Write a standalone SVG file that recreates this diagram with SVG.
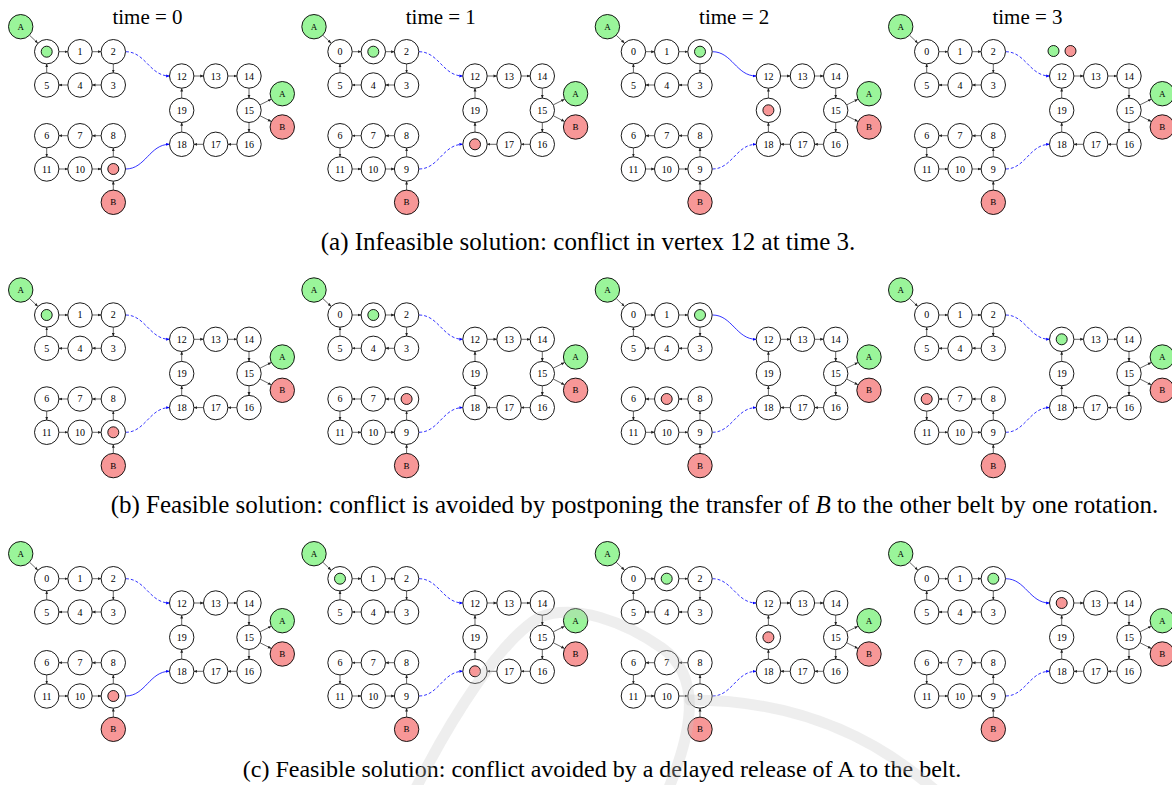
<svg xmlns="http://www.w3.org/2000/svg" xmlns:xlink="http://www.w3.org/1999/xlink" width="1172" height="785" viewBox="0 0 1172 785">
<style>
.n circle{fill:#fff;stroke:#000;stroke-width:.9}
.n.ga circle{fill:#9af59a}
.n.rb circle{fill:#f79797}
.n circle.tg,.tok.tg{fill:#9af59a}
.n circle.tr,.tok.tr{fill:#f79797}
.tok{stroke:#000;stroke-width:.9}
.n text{font-family:"Liberation Serif","Times New Roman",serif;font-size:10px;text-anchor:middle;fill:#000}
.n text.s{font-size:9px}
.e path{fill:none;stroke:#222;stroke-width:.7;marker-end:url(#ah)}
.bl{fill:none;stroke:#00f;stroke-width:.8;marker-end:url(#bh)}
.dsh{stroke-dasharray:3 2}
.ttl{font-family:"Liberation Serif","Times New Roman",serif;font-size:21px;text-anchor:middle;fill:#000}
.cap{font-family:"Liberation Serif","Times New Roman",serif;font-size:25px;text-anchor:middle;fill:#000}
.wm{fill:none;stroke:#c8c8c8;stroke-width:11;stroke-linecap:round;opacity:.3}
</style>
<defs>
<marker id="ah" viewBox="0 0 6 6" refX="5.5" refY="3" markerWidth="3.6" markerHeight="3.6" orient="auto" markerUnits="userSpaceOnUse"><path d="M0,0.6L6,3L0,5.4z" fill="#222"/></marker>
<marker id="bh" viewBox="0 0 6 6" refX="5.5" refY="3" markerWidth="3.6" markerHeight="3.6" orient="auto" markerUnits="userSpaceOnUse"><path d="M0,0.6L6,3L0,5.4z" fill="#00f"/></marker>
<g id="edges" class="e">
<path d="M29.6,35.3L37.7,43"/>
<path d="M58.9,51.7H67.8"/>
<path d="M92.2,51.7H101.1"/>
<path d="M113.3,63.9V72.8"/>
<path d="M101.1,85H92.2"/>
<path d="M67.8,85H58.9"/>
<path d="M46.7,72.8V63.9"/>
<path d="M101.1,135.7H92.2"/>
<path d="M67.8,135.7H58.9"/>
<path d="M46.7,147.9V156.8"/>
<path d="M58.9,169H67.8"/>
<path d="M92.2,169H101.1"/>
<path d="M113.3,156.8V147.9"/>
<path d="M113.3,190.1V181.2"/>
<path d="M193.9,76H203.5"/>
<path d="M227.9,76H236.8"/>
<path d="M249,88.2V98.1"/>
<path d="M249,122.5V132.1"/>
<path d="M236.8,144.3H227.9"/>
<path d="M203.5,144.3H193.9"/>
<path d="M181.7,132.1V122.5"/>
<path d="M181.7,98.1V88.2"/>
<path d="M260.1,104.8L271.1,99.3"/>
<path d="M260.1,115.8L271.1,121.4"/>
</g>
</defs>

<!-- Row (a) -->
<g id="pa0" transform="translate(0,0)">
<text class="ttl" x="147.5" y="24">time = 0</text>
<g id="a0-conn"><use href="#edges" xlink:href="#edges"/><path class="bl dsh" d="M125.8,51.7C145.3,51.7 149.7,76 169.4,76"/><path class="bl" d="M125.8,169C145.3,169 149.7,144.3 169.4,144.3"/></g>
<g id="a0-srcA" class="n ga"><circle cx="20.7" cy="26.7" r="12.2"/><text class="s" x="20.7" y="29.8">A</text></g>
<g id="a0-srcB" class="n rb"><circle cx="113.3" cy="202.3" r="12.2"/><text class="s" x="113.3" y="205.4">B</text></g>
<g id="a0-outA" class="n ga"><circle cx="282.3" cy="93.7" r="12.2"/><text class="s" x="282.3" y="96.8">A</text></g>
<g id="a0-outB" class="n rb"><circle cx="282.3" cy="127" r="12.2"/><text class="s" x="282.3" y="130.1">B</text></g>
<g id="a0-n0" class="n"><circle cx="46.7" cy="51.7" r="12.2"/><circle class="tg" cx="46.7" cy="51.7" r="5.5"/></g>
<g id="a0-n1" class="n"><circle cx="80" cy="51.7" r="12.2"/><text x="80" y="55.2">1</text></g>
<g id="a0-n2" class="n"><circle cx="113.3" cy="51.7" r="12.2"/><text x="113.3" y="55.2">2</text></g>
<g id="a0-n3" class="n"><circle cx="113.3" cy="85" r="12.2"/><text x="113.3" y="88.5">3</text></g>
<g id="a0-n4" class="n"><circle cx="80" cy="85" r="12.2"/><text x="80" y="88.5">4</text></g>
<g id="a0-n5" class="n"><circle cx="46.7" cy="85" r="12.2"/><text x="46.7" y="88.5">5</text></g>
<g id="a0-n6" class="n"><circle cx="46.7" cy="135.7" r="12.2"/><text x="46.7" y="139.2">6</text></g>
<g id="a0-n7" class="n"><circle cx="80" cy="135.7" r="12.2"/><text x="80" y="139.2">7</text></g>
<g id="a0-n8" class="n"><circle cx="113.3" cy="135.7" r="12.2"/><text x="113.3" y="139.2">8</text></g>
<g id="a0-n9" class="n"><circle cx="113.3" cy="169" r="12.2"/><circle class="tr" cx="113.3" cy="169" r="5.5"/></g>
<g id="a0-n10" class="n"><circle cx="80" cy="169" r="12.2"/><text x="80" y="172.5">10</text></g>
<g id="a0-n11" class="n"><circle cx="46.7" cy="169" r="12.2"/><text x="46.7" y="172.5">11</text></g>
<g id="a0-n12" class="n"><circle cx="181.7" cy="76" r="12.2"/><text x="181.7" y="79.5">12</text></g>
<g id="a0-n13" class="n"><circle cx="215.7" cy="76" r="12.2"/><text x="215.7" y="79.5">13</text></g>
<g id="a0-n14" class="n"><circle cx="249" cy="76" r="12.2"/><text x="249" y="79.5">14</text></g>
<g id="a0-n15" class="n"><circle cx="249" cy="110.3" r="12.2"/><text x="249" y="113.8">15</text></g>
<g id="a0-n16" class="n"><circle cx="249" cy="144.3" r="12.2"/><text x="249" y="147.8">16</text></g>
<g id="a0-n17" class="n"><circle cx="215.7" cy="144.3" r="12.2"/><text x="215.7" y="147.8">17</text></g>
<g id="a0-n18" class="n"><circle cx="181.7" cy="144.3" r="12.2"/><text x="181.7" y="147.8">18</text></g>
<g id="a0-n19" class="n"><circle cx="181.7" cy="110.3" r="12.2"/><text x="181.7" y="113.8">19</text></g>
</g>

<g id="pa1" transform="translate(293.3,0)">
<text class="ttl" x="147.5" y="24">time = 1</text>
<g id="a1-conn"><use href="#edges" xlink:href="#edges"/><path class="bl dsh" d="M125.8,51.7C145.3,51.7 149.7,76 169.4,76"/><path class="bl dsh" d="M125.8,169C145.3,169 149.7,144.3 169.4,144.3"/></g>
<g id="a1-srcA" class="n ga"><circle cx="20.7" cy="26.7" r="12.2"/><text class="s" x="20.7" y="29.8">A</text></g>
<g id="a1-srcB" class="n rb"><circle cx="113.3" cy="202.3" r="12.2"/><text class="s" x="113.3" y="205.4">B</text></g>
<g id="a1-outA" class="n ga"><circle cx="282.3" cy="93.7" r="12.2"/><text class="s" x="282.3" y="96.8">A</text></g>
<g id="a1-outB" class="n rb"><circle cx="282.3" cy="127" r="12.2"/><text class="s" x="282.3" y="130.1">B</text></g>
<g id="a1-n0" class="n"><circle cx="46.7" cy="51.7" r="12.2"/><text x="46.7" y="55.2">0</text></g>
<g id="a1-n1" class="n"><circle cx="80" cy="51.7" r="12.2"/><circle class="tg" cx="80" cy="51.7" r="5.5"/></g>
<g id="a1-n2" class="n"><circle cx="113.3" cy="51.7" r="12.2"/><text x="113.3" y="55.2">2</text></g>
<g id="a1-n3" class="n"><circle cx="113.3" cy="85" r="12.2"/><text x="113.3" y="88.5">3</text></g>
<g id="a1-n4" class="n"><circle cx="80" cy="85" r="12.2"/><text x="80" y="88.5">4</text></g>
<g id="a1-n5" class="n"><circle cx="46.7" cy="85" r="12.2"/><text x="46.7" y="88.5">5</text></g>
<g id="a1-n6" class="n"><circle cx="46.7" cy="135.7" r="12.2"/><text x="46.7" y="139.2">6</text></g>
<g id="a1-n7" class="n"><circle cx="80" cy="135.7" r="12.2"/><text x="80" y="139.2">7</text></g>
<g id="a1-n8" class="n"><circle cx="113.3" cy="135.7" r="12.2"/><text x="113.3" y="139.2">8</text></g>
<g id="a1-n9" class="n"><circle cx="113.3" cy="169" r="12.2"/><text x="113.3" y="172.5">9</text></g>
<g id="a1-n10" class="n"><circle cx="80" cy="169" r="12.2"/><text x="80" y="172.5">10</text></g>
<g id="a1-n11" class="n"><circle cx="46.7" cy="169" r="12.2"/><text x="46.7" y="172.5">11</text></g>
<g id="a1-n12" class="n"><circle cx="181.7" cy="76" r="12.2"/><text x="181.7" y="79.5">12</text></g>
<g id="a1-n13" class="n"><circle cx="215.7" cy="76" r="12.2"/><text x="215.7" y="79.5">13</text></g>
<g id="a1-n14" class="n"><circle cx="249" cy="76" r="12.2"/><text x="249" y="79.5">14</text></g>
<g id="a1-n15" class="n"><circle cx="249" cy="110.3" r="12.2"/><text x="249" y="113.8">15</text></g>
<g id="a1-n16" class="n"><circle cx="249" cy="144.3" r="12.2"/><text x="249" y="147.8">16</text></g>
<g id="a1-n17" class="n"><circle cx="215.7" cy="144.3" r="12.2"/><text x="215.7" y="147.8">17</text></g>
<g id="a1-n18" class="n"><circle cx="181.7" cy="144.3" r="12.2"/><circle class="tr" cx="181.7" cy="144.3" r="5.5"/></g>
<g id="a1-n19" class="n"><circle cx="181.7" cy="110.3" r="12.2"/><text x="181.7" y="113.8">19</text></g>
</g>

<g id="pa2" transform="translate(586.7,0)">
<text class="ttl" x="147.5" y="24">time = 2</text>
<g id="a2-conn"><use href="#edges" xlink:href="#edges"/><path class="bl" d="M125.8,51.7C145.3,51.7 149.7,76 169.4,76"/><path class="bl dsh" d="M125.8,169C145.3,169 149.7,144.3 169.4,144.3"/></g>
<g id="a2-srcA" class="n ga"><circle cx="20.7" cy="26.7" r="12.2"/><text class="s" x="20.7" y="29.8">A</text></g>
<g id="a2-srcB" class="n rb"><circle cx="113.3" cy="202.3" r="12.2"/><text class="s" x="113.3" y="205.4">B</text></g>
<g id="a2-outA" class="n ga"><circle cx="282.3" cy="93.7" r="12.2"/><text class="s" x="282.3" y="96.8">A</text></g>
<g id="a2-outB" class="n rb"><circle cx="282.3" cy="127" r="12.2"/><text class="s" x="282.3" y="130.1">B</text></g>
<g id="a2-n0" class="n"><circle cx="46.7" cy="51.7" r="12.2"/><text x="46.7" y="55.2">0</text></g>
<g id="a2-n1" class="n"><circle cx="80" cy="51.7" r="12.2"/><text x="80" y="55.2">1</text></g>
<g id="a2-n2" class="n"><circle cx="113.3" cy="51.7" r="12.2"/><circle class="tg" cx="113.3" cy="51.7" r="5.5"/></g>
<g id="a2-n3" class="n"><circle cx="113.3" cy="85" r="12.2"/><text x="113.3" y="88.5">3</text></g>
<g id="a2-n4" class="n"><circle cx="80" cy="85" r="12.2"/><text x="80" y="88.5">4</text></g>
<g id="a2-n5" class="n"><circle cx="46.7" cy="85" r="12.2"/><text x="46.7" y="88.5">5</text></g>
<g id="a2-n6" class="n"><circle cx="46.7" cy="135.7" r="12.2"/><text x="46.7" y="139.2">6</text></g>
<g id="a2-n7" class="n"><circle cx="80" cy="135.7" r="12.2"/><text x="80" y="139.2">7</text></g>
<g id="a2-n8" class="n"><circle cx="113.3" cy="135.7" r="12.2"/><text x="113.3" y="139.2">8</text></g>
<g id="a2-n9" class="n"><circle cx="113.3" cy="169" r="12.2"/><text x="113.3" y="172.5">9</text></g>
<g id="a2-n10" class="n"><circle cx="80" cy="169" r="12.2"/><text x="80" y="172.5">10</text></g>
<g id="a2-n11" class="n"><circle cx="46.7" cy="169" r="12.2"/><text x="46.7" y="172.5">11</text></g>
<g id="a2-n12" class="n"><circle cx="181.7" cy="76" r="12.2"/><text x="181.7" y="79.5">12</text></g>
<g id="a2-n13" class="n"><circle cx="215.7" cy="76" r="12.2"/><text x="215.7" y="79.5">13</text></g>
<g id="a2-n14" class="n"><circle cx="249" cy="76" r="12.2"/><text x="249" y="79.5">14</text></g>
<g id="a2-n15" class="n"><circle cx="249" cy="110.3" r="12.2"/><text x="249" y="113.8">15</text></g>
<g id="a2-n16" class="n"><circle cx="249" cy="144.3" r="12.2"/><text x="249" y="147.8">16</text></g>
<g id="a2-n17" class="n"><circle cx="215.7" cy="144.3" r="12.2"/><text x="215.7" y="147.8">17</text></g>
<g id="a2-n18" class="n"><circle cx="181.7" cy="144.3" r="12.2"/><text x="181.7" y="147.8">18</text></g>
<g id="a2-n19" class="n"><circle cx="181.7" cy="110.3" r="12.2"/><circle class="tr" cx="181.7" cy="110.3" r="5.5"/></g>
</g>

<g id="pa3" transform="translate(880,0)">
<text class="ttl" x="147.5" y="24">time = 3</text>
<g id="a3-conn"><use href="#edges" xlink:href="#edges"/><path class="bl dsh" d="M125.8,51.7C145.3,51.7 149.7,76 169.4,76"/><path class="bl dsh" d="M125.8,169C145.3,169 149.7,144.3 169.4,144.3"/></g>
<g id="a3-srcA" class="n ga"><circle cx="20.7" cy="26.7" r="12.2"/><text class="s" x="20.7" y="29.8">A</text></g>
<g id="a3-srcB" class="n rb"><circle cx="113.3" cy="202.3" r="12.2"/><text class="s" x="113.3" y="205.4">B</text></g>
<g id="a3-outA" class="n ga"><circle cx="282.3" cy="93.7" r="12.2"/><text class="s" x="282.3" y="96.8">A</text></g>
<g id="a3-outB" class="n rb"><circle cx="282.3" cy="127" r="12.2"/><text class="s" x="282.3" y="130.1">B</text></g>
<g id="a3-n0" class="n"><circle cx="46.7" cy="51.7" r="12.2"/><text x="46.7" y="55.2">0</text></g>
<g id="a3-n1" class="n"><circle cx="80" cy="51.7" r="12.2"/><text x="80" y="55.2">1</text></g>
<g id="a3-n2" class="n"><circle cx="113.3" cy="51.7" r="12.2"/><text x="113.3" y="55.2">2</text></g>
<g id="a3-n3" class="n"><circle cx="113.3" cy="85" r="12.2"/><text x="113.3" y="88.5">3</text></g>
<g id="a3-n4" class="n"><circle cx="80" cy="85" r="12.2"/><text x="80" y="88.5">4</text></g>
<g id="a3-n5" class="n"><circle cx="46.7" cy="85" r="12.2"/><text x="46.7" y="88.5">5</text></g>
<g id="a3-n6" class="n"><circle cx="46.7" cy="135.7" r="12.2"/><text x="46.7" y="139.2">6</text></g>
<g id="a3-n7" class="n"><circle cx="80" cy="135.7" r="12.2"/><text x="80" y="139.2">7</text></g>
<g id="a3-n8" class="n"><circle cx="113.3" cy="135.7" r="12.2"/><text x="113.3" y="139.2">8</text></g>
<g id="a3-n9" class="n"><circle cx="113.3" cy="169" r="12.2"/><text x="113.3" y="172.5">9</text></g>
<g id="a3-n10" class="n"><circle cx="80" cy="169" r="12.2"/><text x="80" y="172.5">10</text></g>
<g id="a3-n11" class="n"><circle cx="46.7" cy="169" r="12.2"/><text x="46.7" y="172.5">11</text></g>
<g id="a3-n12" class="n"><circle cx="181.7" cy="76" r="12.2"/><text x="181.7" y="79.5">12</text></g>
<g id="a3-n13" class="n"><circle cx="215.7" cy="76" r="12.2"/><text x="215.7" y="79.5">13</text></g>
<g id="a3-n14" class="n"><circle cx="249" cy="76" r="12.2"/><text x="249" y="79.5">14</text></g>
<g id="a3-n15" class="n"><circle cx="249" cy="110.3" r="12.2"/><text x="249" y="113.8">15</text></g>
<g id="a3-n16" class="n"><circle cx="249" cy="144.3" r="12.2"/><text x="249" y="147.8">16</text></g>
<g id="a3-n17" class="n"><circle cx="215.7" cy="144.3" r="12.2"/><text x="215.7" y="147.8">17</text></g>
<g id="a3-n18" class="n"><circle cx="181.7" cy="144.3" r="12.2"/><text x="181.7" y="147.8">18</text></g>
<g id="a3-n19" class="n"><circle cx="181.7" cy="110.3" r="12.2"/><text x="181.7" y="113.8">19</text></g>
<g id="a3-conflict"><circle class="tok tg" cx="173.5" cy="51" r="5.5"/><circle class="tok tr" cx="190.5" cy="51" r="5.5"/></g>
</g>

<text id="cap-a" class="cap" x="588" y="250">(a) Infeasible solution: conflict in vertex 12 at time 3.</text>

<!-- Row (b) -->
<g id="pb0" transform="translate(0,263.3)">
<g id="b0-conn"><use href="#edges" xlink:href="#edges"/><path class="bl dsh" d="M125.8,51.7C145.3,51.7 149.7,76 169.4,76"/><path class="bl dsh" d="M125.8,169C145.3,169 149.7,144.3 169.4,144.3"/></g>
<g id="b0-srcA" class="n ga"><circle cx="20.7" cy="26.7" r="12.2"/><text class="s" x="20.7" y="29.8">A</text></g>
<g id="b0-srcB" class="n rb"><circle cx="113.3" cy="202.3" r="12.2"/><text class="s" x="113.3" y="205.4">B</text></g>
<g id="b0-outA" class="n ga"><circle cx="282.3" cy="93.7" r="12.2"/><text class="s" x="282.3" y="96.8">A</text></g>
<g id="b0-outB" class="n rb"><circle cx="282.3" cy="127" r="12.2"/><text class="s" x="282.3" y="130.1">B</text></g>
<g id="b0-n0" class="n"><circle cx="46.7" cy="51.7" r="12.2"/><circle class="tg" cx="46.7" cy="51.7" r="5.5"/></g>
<g id="b0-n1" class="n"><circle cx="80" cy="51.7" r="12.2"/><text x="80" y="55.2">1</text></g>
<g id="b0-n2" class="n"><circle cx="113.3" cy="51.7" r="12.2"/><text x="113.3" y="55.2">2</text></g>
<g id="b0-n3" class="n"><circle cx="113.3" cy="85" r="12.2"/><text x="113.3" y="88.5">3</text></g>
<g id="b0-n4" class="n"><circle cx="80" cy="85" r="12.2"/><text x="80" y="88.5">4</text></g>
<g id="b0-n5" class="n"><circle cx="46.7" cy="85" r="12.2"/><text x="46.7" y="88.5">5</text></g>
<g id="b0-n6" class="n"><circle cx="46.7" cy="135.7" r="12.2"/><text x="46.7" y="139.2">6</text></g>
<g id="b0-n7" class="n"><circle cx="80" cy="135.7" r="12.2"/><text x="80" y="139.2">7</text></g>
<g id="b0-n8" class="n"><circle cx="113.3" cy="135.7" r="12.2"/><text x="113.3" y="139.2">8</text></g>
<g id="b0-n9" class="n"><circle cx="113.3" cy="169" r="12.2"/><circle class="tr" cx="113.3" cy="169" r="5.5"/></g>
<g id="b0-n10" class="n"><circle cx="80" cy="169" r="12.2"/><text x="80" y="172.5">10</text></g>
<g id="b0-n11" class="n"><circle cx="46.7" cy="169" r="12.2"/><text x="46.7" y="172.5">11</text></g>
<g id="b0-n12" class="n"><circle cx="181.7" cy="76" r="12.2"/><text x="181.7" y="79.5">12</text></g>
<g id="b0-n13" class="n"><circle cx="215.7" cy="76" r="12.2"/><text x="215.7" y="79.5">13</text></g>
<g id="b0-n14" class="n"><circle cx="249" cy="76" r="12.2"/><text x="249" y="79.5">14</text></g>
<g id="b0-n15" class="n"><circle cx="249" cy="110.3" r="12.2"/><text x="249" y="113.8">15</text></g>
<g id="b0-n16" class="n"><circle cx="249" cy="144.3" r="12.2"/><text x="249" y="147.8">16</text></g>
<g id="b0-n17" class="n"><circle cx="215.7" cy="144.3" r="12.2"/><text x="215.7" y="147.8">17</text></g>
<g id="b0-n18" class="n"><circle cx="181.7" cy="144.3" r="12.2"/><text x="181.7" y="147.8">18</text></g>
<g id="b0-n19" class="n"><circle cx="181.7" cy="110.3" r="12.2"/><text x="181.7" y="113.8">19</text></g>
</g>

<g id="pb1" transform="translate(293.3,263.3)">
<g id="b1-conn"><use href="#edges" xlink:href="#edges"/><path class="bl dsh" d="M125.8,51.7C145.3,51.7 149.7,76 169.4,76"/><path class="bl dsh" d="M125.8,169C145.3,169 149.7,144.3 169.4,144.3"/></g>
<g id="b1-srcA" class="n ga"><circle cx="20.7" cy="26.7" r="12.2"/><text class="s" x="20.7" y="29.8">A</text></g>
<g id="b1-srcB" class="n rb"><circle cx="113.3" cy="202.3" r="12.2"/><text class="s" x="113.3" y="205.4">B</text></g>
<g id="b1-outA" class="n ga"><circle cx="282.3" cy="93.7" r="12.2"/><text class="s" x="282.3" y="96.8">A</text></g>
<g id="b1-outB" class="n rb"><circle cx="282.3" cy="127" r="12.2"/><text class="s" x="282.3" y="130.1">B</text></g>
<g id="b1-n0" class="n"><circle cx="46.7" cy="51.7" r="12.2"/><text x="46.7" y="55.2">0</text></g>
<g id="b1-n1" class="n"><circle cx="80" cy="51.7" r="12.2"/><circle class="tg" cx="80" cy="51.7" r="5.5"/></g>
<g id="b1-n2" class="n"><circle cx="113.3" cy="51.7" r="12.2"/><text x="113.3" y="55.2">2</text></g>
<g id="b1-n3" class="n"><circle cx="113.3" cy="85" r="12.2"/><text x="113.3" y="88.5">3</text></g>
<g id="b1-n4" class="n"><circle cx="80" cy="85" r="12.2"/><text x="80" y="88.5">4</text></g>
<g id="b1-n5" class="n"><circle cx="46.7" cy="85" r="12.2"/><text x="46.7" y="88.5">5</text></g>
<g id="b1-n6" class="n"><circle cx="46.7" cy="135.7" r="12.2"/><text x="46.7" y="139.2">6</text></g>
<g id="b1-n7" class="n"><circle cx="80" cy="135.7" r="12.2"/><text x="80" y="139.2">7</text></g>
<g id="b1-n8" class="n"><circle cx="113.3" cy="135.7" r="12.2"/><circle class="tr" cx="113.3" cy="135.7" r="5.5"/></g>
<g id="b1-n9" class="n"><circle cx="113.3" cy="169" r="12.2"/><text x="113.3" y="172.5">9</text></g>
<g id="b1-n10" class="n"><circle cx="80" cy="169" r="12.2"/><text x="80" y="172.5">10</text></g>
<g id="b1-n11" class="n"><circle cx="46.7" cy="169" r="12.2"/><text x="46.7" y="172.5">11</text></g>
<g id="b1-n12" class="n"><circle cx="181.7" cy="76" r="12.2"/><text x="181.7" y="79.5">12</text></g>
<g id="b1-n13" class="n"><circle cx="215.7" cy="76" r="12.2"/><text x="215.7" y="79.5">13</text></g>
<g id="b1-n14" class="n"><circle cx="249" cy="76" r="12.2"/><text x="249" y="79.5">14</text></g>
<g id="b1-n15" class="n"><circle cx="249" cy="110.3" r="12.2"/><text x="249" y="113.8">15</text></g>
<g id="b1-n16" class="n"><circle cx="249" cy="144.3" r="12.2"/><text x="249" y="147.8">16</text></g>
<g id="b1-n17" class="n"><circle cx="215.7" cy="144.3" r="12.2"/><text x="215.7" y="147.8">17</text></g>
<g id="b1-n18" class="n"><circle cx="181.7" cy="144.3" r="12.2"/><text x="181.7" y="147.8">18</text></g>
<g id="b1-n19" class="n"><circle cx="181.7" cy="110.3" r="12.2"/><text x="181.7" y="113.8">19</text></g>
</g>

<g id="pb2" transform="translate(586.7,263.3)">
<g id="b2-conn"><use href="#edges" xlink:href="#edges"/><path class="bl" d="M125.8,51.7C145.3,51.7 149.7,76 169.4,76"/><path class="bl dsh" d="M125.8,169C145.3,169 149.7,144.3 169.4,144.3"/></g>
<g id="b2-srcA" class="n ga"><circle cx="20.7" cy="26.7" r="12.2"/><text class="s" x="20.7" y="29.8">A</text></g>
<g id="b2-srcB" class="n rb"><circle cx="113.3" cy="202.3" r="12.2"/><text class="s" x="113.3" y="205.4">B</text></g>
<g id="b2-outA" class="n ga"><circle cx="282.3" cy="93.7" r="12.2"/><text class="s" x="282.3" y="96.8">A</text></g>
<g id="b2-outB" class="n rb"><circle cx="282.3" cy="127" r="12.2"/><text class="s" x="282.3" y="130.1">B</text></g>
<g id="b2-n0" class="n"><circle cx="46.7" cy="51.7" r="12.2"/><text x="46.7" y="55.2">0</text></g>
<g id="b2-n1" class="n"><circle cx="80" cy="51.7" r="12.2"/><text x="80" y="55.2">1</text></g>
<g id="b2-n2" class="n"><circle cx="113.3" cy="51.7" r="12.2"/><circle class="tg" cx="113.3" cy="51.7" r="5.5"/></g>
<g id="b2-n3" class="n"><circle cx="113.3" cy="85" r="12.2"/><text x="113.3" y="88.5">3</text></g>
<g id="b2-n4" class="n"><circle cx="80" cy="85" r="12.2"/><text x="80" y="88.5">4</text></g>
<g id="b2-n5" class="n"><circle cx="46.7" cy="85" r="12.2"/><text x="46.7" y="88.5">5</text></g>
<g id="b2-n6" class="n"><circle cx="46.7" cy="135.7" r="12.2"/><text x="46.7" y="139.2">6</text></g>
<g id="b2-n7" class="n"><circle cx="80" cy="135.7" r="12.2"/><circle class="tr" cx="80" cy="135.7" r="5.5"/></g>
<g id="b2-n8" class="n"><circle cx="113.3" cy="135.7" r="12.2"/><text x="113.3" y="139.2">8</text></g>
<g id="b2-n9" class="n"><circle cx="113.3" cy="169" r="12.2"/><text x="113.3" y="172.5">9</text></g>
<g id="b2-n10" class="n"><circle cx="80" cy="169" r="12.2"/><text x="80" y="172.5">10</text></g>
<g id="b2-n11" class="n"><circle cx="46.7" cy="169" r="12.2"/><text x="46.7" y="172.5">11</text></g>
<g id="b2-n12" class="n"><circle cx="181.7" cy="76" r="12.2"/><text x="181.7" y="79.5">12</text></g>
<g id="b2-n13" class="n"><circle cx="215.7" cy="76" r="12.2"/><text x="215.7" y="79.5">13</text></g>
<g id="b2-n14" class="n"><circle cx="249" cy="76" r="12.2"/><text x="249" y="79.5">14</text></g>
<g id="b2-n15" class="n"><circle cx="249" cy="110.3" r="12.2"/><text x="249" y="113.8">15</text></g>
<g id="b2-n16" class="n"><circle cx="249" cy="144.3" r="12.2"/><text x="249" y="147.8">16</text></g>
<g id="b2-n17" class="n"><circle cx="215.7" cy="144.3" r="12.2"/><text x="215.7" y="147.8">17</text></g>
<g id="b2-n18" class="n"><circle cx="181.7" cy="144.3" r="12.2"/><text x="181.7" y="147.8">18</text></g>
<g id="b2-n19" class="n"><circle cx="181.7" cy="110.3" r="12.2"/><text x="181.7" y="113.8">19</text></g>
</g>

<g id="pb3" transform="translate(880,263.3)">
<g id="b3-conn"><use href="#edges" xlink:href="#edges"/><path class="bl dsh" d="M125.8,51.7C145.3,51.7 149.7,76 169.4,76"/><path class="bl dsh" d="M125.8,169C145.3,169 149.7,144.3 169.4,144.3"/></g>
<g id="b3-srcA" class="n ga"><circle cx="20.7" cy="26.7" r="12.2"/><text class="s" x="20.7" y="29.8">A</text></g>
<g id="b3-srcB" class="n rb"><circle cx="113.3" cy="202.3" r="12.2"/><text class="s" x="113.3" y="205.4">B</text></g>
<g id="b3-outA" class="n ga"><circle cx="282.3" cy="93.7" r="12.2"/><text class="s" x="282.3" y="96.8">A</text></g>
<g id="b3-outB" class="n rb"><circle cx="282.3" cy="127" r="12.2"/><text class="s" x="282.3" y="130.1">B</text></g>
<g id="b3-n0" class="n"><circle cx="46.7" cy="51.7" r="12.2"/><text x="46.7" y="55.2">0</text></g>
<g id="b3-n1" class="n"><circle cx="80" cy="51.7" r="12.2"/><text x="80" y="55.2">1</text></g>
<g id="b3-n2" class="n"><circle cx="113.3" cy="51.7" r="12.2"/><text x="113.3" y="55.2">2</text></g>
<g id="b3-n3" class="n"><circle cx="113.3" cy="85" r="12.2"/><text x="113.3" y="88.5">3</text></g>
<g id="b3-n4" class="n"><circle cx="80" cy="85" r="12.2"/><text x="80" y="88.5">4</text></g>
<g id="b3-n5" class="n"><circle cx="46.7" cy="85" r="12.2"/><text x="46.7" y="88.5">5</text></g>
<g id="b3-n6" class="n"><circle cx="46.7" cy="135.7" r="12.2"/><circle class="tr" cx="46.7" cy="135.7" r="5.5"/></g>
<g id="b3-n7" class="n"><circle cx="80" cy="135.7" r="12.2"/><text x="80" y="139.2">7</text></g>
<g id="b3-n8" class="n"><circle cx="113.3" cy="135.7" r="12.2"/><text x="113.3" y="139.2">8</text></g>
<g id="b3-n9" class="n"><circle cx="113.3" cy="169" r="12.2"/><text x="113.3" y="172.5">9</text></g>
<g id="b3-n10" class="n"><circle cx="80" cy="169" r="12.2"/><text x="80" y="172.5">10</text></g>
<g id="b3-n11" class="n"><circle cx="46.7" cy="169" r="12.2"/><text x="46.7" y="172.5">11</text></g>
<g id="b3-n12" class="n"><circle cx="181.7" cy="76" r="12.2"/><circle class="tg" cx="181.7" cy="76" r="5.5"/></g>
<g id="b3-n13" class="n"><circle cx="215.7" cy="76" r="12.2"/><text x="215.7" y="79.5">13</text></g>
<g id="b3-n14" class="n"><circle cx="249" cy="76" r="12.2"/><text x="249" y="79.5">14</text></g>
<g id="b3-n15" class="n"><circle cx="249" cy="110.3" r="12.2"/><text x="249" y="113.8">15</text></g>
<g id="b3-n16" class="n"><circle cx="249" cy="144.3" r="12.2"/><text x="249" y="147.8">16</text></g>
<g id="b3-n17" class="n"><circle cx="215.7" cy="144.3" r="12.2"/><text x="215.7" y="147.8">17</text></g>
<g id="b3-n18" class="n"><circle cx="181.7" cy="144.3" r="12.2"/><text x="181.7" y="147.8">18</text></g>
<g id="b3-n19" class="n"><circle cx="181.7" cy="110.3" r="12.2"/><text x="181.7" y="113.8">19</text></g>
</g>

<text id="cap-b" class="cap" x="634.5" y="513">(b) Feasible solution: conflict is avoided by postponing the transfer of <tspan font-style="italic">B</tspan> to the other belt by one rotation.</text>

<!-- Row (c) -->
<g id="pc0" transform="translate(0,527)">
<g id="c0-conn"><use href="#edges" xlink:href="#edges"/><path class="bl dsh" d="M125.8,51.7C145.3,51.7 149.7,76 169.4,76"/><path class="bl" d="M125.8,169C145.3,169 149.7,144.3 169.4,144.3"/></g>
<g id="c0-srcA" class="n ga"><circle cx="20.7" cy="26.7" r="12.2"/><text class="s" x="20.7" y="29.8">A</text></g>
<g id="c0-srcB" class="n rb"><circle cx="113.3" cy="202.3" r="12.2"/><text class="s" x="113.3" y="205.4">B</text></g>
<g id="c0-outA" class="n ga"><circle cx="282.3" cy="93.7" r="12.2"/><text class="s" x="282.3" y="96.8">A</text></g>
<g id="c0-outB" class="n rb"><circle cx="282.3" cy="127" r="12.2"/><text class="s" x="282.3" y="130.1">B</text></g>
<g id="c0-n0" class="n"><circle cx="46.7" cy="51.7" r="12.2"/><text x="46.7" y="55.2">0</text></g>
<g id="c0-n1" class="n"><circle cx="80" cy="51.7" r="12.2"/><text x="80" y="55.2">1</text></g>
<g id="c0-n2" class="n"><circle cx="113.3" cy="51.7" r="12.2"/><text x="113.3" y="55.2">2</text></g>
<g id="c0-n3" class="n"><circle cx="113.3" cy="85" r="12.2"/><text x="113.3" y="88.5">3</text></g>
<g id="c0-n4" class="n"><circle cx="80" cy="85" r="12.2"/><text x="80" y="88.5">4</text></g>
<g id="c0-n5" class="n"><circle cx="46.7" cy="85" r="12.2"/><text x="46.7" y="88.5">5</text></g>
<g id="c0-n6" class="n"><circle cx="46.7" cy="135.7" r="12.2"/><text x="46.7" y="139.2">6</text></g>
<g id="c0-n7" class="n"><circle cx="80" cy="135.7" r="12.2"/><text x="80" y="139.2">7</text></g>
<g id="c0-n8" class="n"><circle cx="113.3" cy="135.7" r="12.2"/><text x="113.3" y="139.2">8</text></g>
<g id="c0-n9" class="n"><circle cx="113.3" cy="169" r="12.2"/><circle class="tr" cx="113.3" cy="169" r="5.5"/></g>
<g id="c0-n10" class="n"><circle cx="80" cy="169" r="12.2"/><text x="80" y="172.5">10</text></g>
<g id="c0-n11" class="n"><circle cx="46.7" cy="169" r="12.2"/><text x="46.7" y="172.5">11</text></g>
<g id="c0-n12" class="n"><circle cx="181.7" cy="76" r="12.2"/><text x="181.7" y="79.5">12</text></g>
<g id="c0-n13" class="n"><circle cx="215.7" cy="76" r="12.2"/><text x="215.7" y="79.5">13</text></g>
<g id="c0-n14" class="n"><circle cx="249" cy="76" r="12.2"/><text x="249" y="79.5">14</text></g>
<g id="c0-n15" class="n"><circle cx="249" cy="110.3" r="12.2"/><text x="249" y="113.8">15</text></g>
<g id="c0-n16" class="n"><circle cx="249" cy="144.3" r="12.2"/><text x="249" y="147.8">16</text></g>
<g id="c0-n17" class="n"><circle cx="215.7" cy="144.3" r="12.2"/><text x="215.7" y="147.8">17</text></g>
<g id="c0-n18" class="n"><circle cx="181.7" cy="144.3" r="12.2"/><text x="181.7" y="147.8">18</text></g>
<g id="c0-n19" class="n"><circle cx="181.7" cy="110.3" r="12.2"/><text x="181.7" y="113.8">19</text></g>
</g>

<g id="pc1" transform="translate(293.3,527)">
<g id="c1-conn"><use href="#edges" xlink:href="#edges"/><path class="bl dsh" d="M125.8,51.7C145.3,51.7 149.7,76 169.4,76"/><path class="bl dsh" d="M125.8,169C145.3,169 149.7,144.3 169.4,144.3"/></g>
<g id="c1-srcA" class="n ga"><circle cx="20.7" cy="26.7" r="12.2"/><text class="s" x="20.7" y="29.8">A</text></g>
<g id="c1-srcB" class="n rb"><circle cx="113.3" cy="202.3" r="12.2"/><text class="s" x="113.3" y="205.4">B</text></g>
<g id="c1-outA" class="n ga"><circle cx="282.3" cy="93.7" r="12.2"/><text class="s" x="282.3" y="96.8">A</text></g>
<g id="c1-outB" class="n rb"><circle cx="282.3" cy="127" r="12.2"/><text class="s" x="282.3" y="130.1">B</text></g>
<g id="c1-n0" class="n"><circle cx="46.7" cy="51.7" r="12.2"/><circle class="tg" cx="46.7" cy="51.7" r="5.5"/></g>
<g id="c1-n1" class="n"><circle cx="80" cy="51.7" r="12.2"/><text x="80" y="55.2">1</text></g>
<g id="c1-n2" class="n"><circle cx="113.3" cy="51.7" r="12.2"/><text x="113.3" y="55.2">2</text></g>
<g id="c1-n3" class="n"><circle cx="113.3" cy="85" r="12.2"/><text x="113.3" y="88.5">3</text></g>
<g id="c1-n4" class="n"><circle cx="80" cy="85" r="12.2"/><text x="80" y="88.5">4</text></g>
<g id="c1-n5" class="n"><circle cx="46.7" cy="85" r="12.2"/><text x="46.7" y="88.5">5</text></g>
<g id="c1-n6" class="n"><circle cx="46.7" cy="135.7" r="12.2"/><text x="46.7" y="139.2">6</text></g>
<g id="c1-n7" class="n"><circle cx="80" cy="135.7" r="12.2"/><text x="80" y="139.2">7</text></g>
<g id="c1-n8" class="n"><circle cx="113.3" cy="135.7" r="12.2"/><text x="113.3" y="139.2">8</text></g>
<g id="c1-n9" class="n"><circle cx="113.3" cy="169" r="12.2"/><text x="113.3" y="172.5">9</text></g>
<g id="c1-n10" class="n"><circle cx="80" cy="169" r="12.2"/><text x="80" y="172.5">10</text></g>
<g id="c1-n11" class="n"><circle cx="46.7" cy="169" r="12.2"/><text x="46.7" y="172.5">11</text></g>
<g id="c1-n12" class="n"><circle cx="181.7" cy="76" r="12.2"/><text x="181.7" y="79.5">12</text></g>
<g id="c1-n13" class="n"><circle cx="215.7" cy="76" r="12.2"/><text x="215.7" y="79.5">13</text></g>
<g id="c1-n14" class="n"><circle cx="249" cy="76" r="12.2"/><text x="249" y="79.5">14</text></g>
<g id="c1-n15" class="n"><circle cx="249" cy="110.3" r="12.2"/><text x="249" y="113.8">15</text></g>
<g id="c1-n16" class="n"><circle cx="249" cy="144.3" r="12.2"/><text x="249" y="147.8">16</text></g>
<g id="c1-n17" class="n"><circle cx="215.7" cy="144.3" r="12.2"/><text x="215.7" y="147.8">17</text></g>
<g id="c1-n18" class="n"><circle cx="181.7" cy="144.3" r="12.2"/><circle class="tr" cx="181.7" cy="144.3" r="5.5"/></g>
<g id="c1-n19" class="n"><circle cx="181.7" cy="110.3" r="12.2"/><text x="181.7" y="113.8">19</text></g>
</g>

<g id="pc2" transform="translate(586.7,527)">
<g id="c2-conn"><use href="#edges" xlink:href="#edges"/><path class="bl dsh" d="M125.8,51.7C145.3,51.7 149.7,76 169.4,76"/><path class="bl dsh" d="M125.8,169C145.3,169 149.7,144.3 169.4,144.3"/></g>
<g id="c2-srcA" class="n ga"><circle cx="20.7" cy="26.7" r="12.2"/><text class="s" x="20.7" y="29.8">A</text></g>
<g id="c2-srcB" class="n rb"><circle cx="113.3" cy="202.3" r="12.2"/><text class="s" x="113.3" y="205.4">B</text></g>
<g id="c2-outA" class="n ga"><circle cx="282.3" cy="93.7" r="12.2"/><text class="s" x="282.3" y="96.8">A</text></g>
<g id="c2-outB" class="n rb"><circle cx="282.3" cy="127" r="12.2"/><text class="s" x="282.3" y="130.1">B</text></g>
<g id="c2-n0" class="n"><circle cx="46.7" cy="51.7" r="12.2"/><text x="46.7" y="55.2">0</text></g>
<g id="c2-n1" class="n"><circle cx="80" cy="51.7" r="12.2"/><circle class="tg" cx="80" cy="51.7" r="5.5"/></g>
<g id="c2-n2" class="n"><circle cx="113.3" cy="51.7" r="12.2"/><text x="113.3" y="55.2">2</text></g>
<g id="c2-n3" class="n"><circle cx="113.3" cy="85" r="12.2"/><text x="113.3" y="88.5">3</text></g>
<g id="c2-n4" class="n"><circle cx="80" cy="85" r="12.2"/><text x="80" y="88.5">4</text></g>
<g id="c2-n5" class="n"><circle cx="46.7" cy="85" r="12.2"/><text x="46.7" y="88.5">5</text></g>
<g id="c2-n6" class="n"><circle cx="46.7" cy="135.7" r="12.2"/><text x="46.7" y="139.2">6</text></g>
<g id="c2-n7" class="n"><circle cx="80" cy="135.7" r="12.2"/><text x="80" y="139.2">7</text></g>
<g id="c2-n8" class="n"><circle cx="113.3" cy="135.7" r="12.2"/><text x="113.3" y="139.2">8</text></g>
<g id="c2-n9" class="n"><circle cx="113.3" cy="169" r="12.2"/><text x="113.3" y="172.5">9</text></g>
<g id="c2-n10" class="n"><circle cx="80" cy="169" r="12.2"/><text x="80" y="172.5">10</text></g>
<g id="c2-n11" class="n"><circle cx="46.7" cy="169" r="12.2"/><text x="46.7" y="172.5">11</text></g>
<g id="c2-n12" class="n"><circle cx="181.7" cy="76" r="12.2"/><text x="181.7" y="79.5">12</text></g>
<g id="c2-n13" class="n"><circle cx="215.7" cy="76" r="12.2"/><text x="215.7" y="79.5">13</text></g>
<g id="c2-n14" class="n"><circle cx="249" cy="76" r="12.2"/><text x="249" y="79.5">14</text></g>
<g id="c2-n15" class="n"><circle cx="249" cy="110.3" r="12.2"/><text x="249" y="113.8">15</text></g>
<g id="c2-n16" class="n"><circle cx="249" cy="144.3" r="12.2"/><text x="249" y="147.8">16</text></g>
<g id="c2-n17" class="n"><circle cx="215.7" cy="144.3" r="12.2"/><text x="215.7" y="147.8">17</text></g>
<g id="c2-n18" class="n"><circle cx="181.7" cy="144.3" r="12.2"/><text x="181.7" y="147.8">18</text></g>
<g id="c2-n19" class="n"><circle cx="181.7" cy="110.3" r="12.2"/><circle class="tr" cx="181.7" cy="110.3" r="5.5"/></g>
</g>

<g id="pc3" transform="translate(880,527)">
<g id="c3-conn"><use href="#edges" xlink:href="#edges"/><path class="bl" d="M125.8,51.7C145.3,51.7 149.7,76 169.4,76"/><path class="bl dsh" d="M125.8,169C145.3,169 149.7,144.3 169.4,144.3"/></g>
<g id="c3-srcA" class="n ga"><circle cx="20.7" cy="26.7" r="12.2"/><text class="s" x="20.7" y="29.8">A</text></g>
<g id="c3-srcB" class="n rb"><circle cx="113.3" cy="202.3" r="12.2"/><text class="s" x="113.3" y="205.4">B</text></g>
<g id="c3-outA" class="n ga"><circle cx="282.3" cy="93.7" r="12.2"/><text class="s" x="282.3" y="96.8">A</text></g>
<g id="c3-outB" class="n rb"><circle cx="282.3" cy="127" r="12.2"/><text class="s" x="282.3" y="130.1">B</text></g>
<g id="c3-n0" class="n"><circle cx="46.7" cy="51.7" r="12.2"/><text x="46.7" y="55.2">0</text></g>
<g id="c3-n1" class="n"><circle cx="80" cy="51.7" r="12.2"/><text x="80" y="55.2">1</text></g>
<g id="c3-n2" class="n"><circle cx="113.3" cy="51.7" r="12.2"/><circle class="tg" cx="113.3" cy="51.7" r="5.5"/></g>
<g id="c3-n3" class="n"><circle cx="113.3" cy="85" r="12.2"/><text x="113.3" y="88.5">3</text></g>
<g id="c3-n4" class="n"><circle cx="80" cy="85" r="12.2"/><text x="80" y="88.5">4</text></g>
<g id="c3-n5" class="n"><circle cx="46.7" cy="85" r="12.2"/><text x="46.7" y="88.5">5</text></g>
<g id="c3-n6" class="n"><circle cx="46.7" cy="135.7" r="12.2"/><text x="46.7" y="139.2">6</text></g>
<g id="c3-n7" class="n"><circle cx="80" cy="135.7" r="12.2"/><text x="80" y="139.2">7</text></g>
<g id="c3-n8" class="n"><circle cx="113.3" cy="135.7" r="12.2"/><text x="113.3" y="139.2">8</text></g>
<g id="c3-n9" class="n"><circle cx="113.3" cy="169" r="12.2"/><text x="113.3" y="172.5">9</text></g>
<g id="c3-n10" class="n"><circle cx="80" cy="169" r="12.2"/><text x="80" y="172.5">10</text></g>
<g id="c3-n11" class="n"><circle cx="46.7" cy="169" r="12.2"/><text x="46.7" y="172.5">11</text></g>
<g id="c3-n12" class="n"><circle cx="181.7" cy="76" r="12.2"/><circle class="tr" cx="181.7" cy="76" r="5.5"/></g>
<g id="c3-n13" class="n"><circle cx="215.7" cy="76" r="12.2"/><text x="215.7" y="79.5">13</text></g>
<g id="c3-n14" class="n"><circle cx="249" cy="76" r="12.2"/><text x="249" y="79.5">14</text></g>
<g id="c3-n15" class="n"><circle cx="249" cy="110.3" r="12.2"/><text x="249" y="113.8">15</text></g>
<g id="c3-n16" class="n"><circle cx="249" cy="144.3" r="12.2"/><text x="249" y="147.8">16</text></g>
<g id="c3-n17" class="n"><circle cx="215.7" cy="144.3" r="12.2"/><text x="215.7" y="147.8">17</text></g>
<g id="c3-n18" class="n"><circle cx="181.7" cy="144.3" r="12.2"/><text x="181.7" y="147.8">18</text></g>
<g id="c3-n19" class="n"><circle cx="181.7" cy="110.3" r="12.2"/><text x="181.7" y="113.8">19</text></g>
</g>

<text id="cap-c" class="cap" x="602" y="777" style="font-size:24px">(c) Feasible solution: conflict avoided by a delayed release of A to the belt.</text>

<g id="watermark">
<path class="wm" d="M415,790C450,720 500,640 540,617C575,603 625,622 662,648C700,675 695,725 668,790"/>
<path class="wm" d="M690,700C760,700 850,715 935,790"/>
</g>
</svg>
